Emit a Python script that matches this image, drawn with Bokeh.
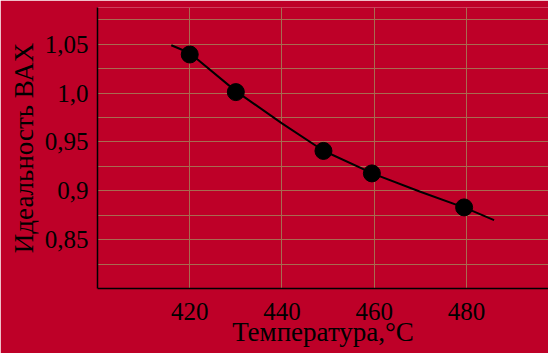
from bokeh.plotting import figure
from bokeh.models import FixedTicker, Range1d
from bokeh.embed import file_html
from bokeh.resources import INLINE

# measured points
temp = [420, 430, 449, 459.5, 479.5]
ideality = [1.0395, 1.001, 0.9408, 0.9178, 0.883]

# trend line
trend_x = [416, 420, 430, 440, 449, 460, 470, 480, 486]
trend_y = [1.049, 1.041, 1.002, 0.969, 0.941, 0.917, 0.899, 0.882, 0.870]

x_ticks = [420, 440, 460, 480]
y_ticks = [0.85, 0.9, 0.95, 1.0, 1.05]
y_tick_labels = ["0,85", "0,9", "0,95", "1,0", "1,05"]
y_grid = [0.825, 0.85, 0.875, 0.9, 0.925, 0.95, 0.975, 1.0, 1.025, 1.05, 1.075]
x_title = "Температура,°C"
y_title = "Идеальность ВАХ"

BG = "#BE0028"
GRID = "#A86B50"
FONT = "'Liberation Serif', 'Times New Roman', serif"

p = figure(width=548, height=353, output_backend="svg", toolbar_location=None,
           x_range=Range1d(400, 497.8), y_range=Range1d(0.80, 1.0876),
           min_border_left=97, min_border_right=0, min_border_top=7, min_border_bottom=65)
p.background_fill_color = BG
p.border_fill_color = BG
p.outline_line_color = None

p.line(trend_x, trend_y, line_color="black", line_width=2)
p.scatter(temp, ideality, size=17, fill_color="black", line_color="black")

for ax in (p.xaxis[0], p.yaxis[0]):
    ax.axis_line_color = "black"
    ax.axis_line_width = 1.5
    ax.major_tick_line_color = None
    ax.minor_tick_line_color = None
    ax.major_tick_out = 0
    ax.major_tick_in = 0
    ax.major_label_text_font = FONT
    ax.major_label_text_font_size = "25px"
    ax.major_label_text_color = "black"
    ax.axis_label_text_font = FONT
    ax.axis_label_text_font_size = "27px"
    ax.axis_label_text_font_style = "normal"
    ax.axis_label_text_color = "black"

p.xaxis[0].ticker = FixedTicker(ticks=x_ticks)
p.yaxis[0].ticker = FixedTicker(ticks=y_ticks)
p.yaxis[0].major_label_overrides = dict(zip(y_ticks, y_tick_labels))
p.xaxis[0].axis_label = x_title
p.yaxis[0].axis_label = y_title
p.xaxis[0].major_label_standoff = 14
p.yaxis[0].major_label_standoff = 9
p.xaxis[0].axis_label_standoff = -6
p.yaxis[0].axis_label_standoff = 3

p.xgrid[0].ticker = FixedTicker(ticks=x_ticks)
p.ygrid[0].ticker = FixedTicker(ticks=y_grid)
for g in (p.xgrid[0], p.ygrid[0]):
    g.grid_line_color = GRID
    g.grid_line_width = 1

open("out.html", "w").write(file_html(p, INLINE))
